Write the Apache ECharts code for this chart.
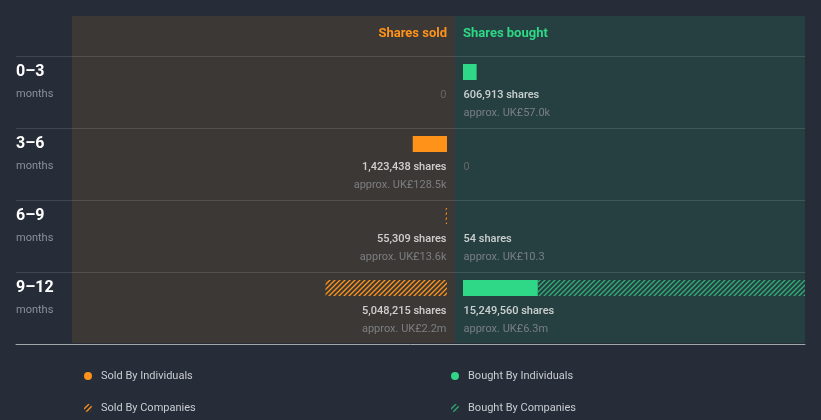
<!DOCTYPE html>
<html>
<head>
<meta charset="utf-8">
<script src="https://cdn.jsdelivr.net/npm/echarts@6/dist/echarts.min.js"></script>
<style>
html,body{margin:0;padding:0;background:#262c38;}
#chart{width:821px;height:420px;}
</style>
</head>
<body>
<div id="chart"></div>
<script>
// ---- data ----
const categories = ['0–3', '3–6', '6–9', '9–12'];
const soldIndividuals = [0, 1423438, 0, 0];
const soldCompanies = [0, 0, 55309, 5048215];
const boughtIndividuals = [606913, 0, 54, 3335000];
const boughtCompanies = [0, 0, 0, 11914560];
const soldShares = [0, 1423438, 55309, 5048215];
const soldApprox = ['', 'UK£128.5k', 'UK£13.6k', 'UK£2.2m'];
const boughtShares = [606913, 0, 54, 15249560];
const boughtApprox = ['UK£57.0k', '', 'UK£10.3', 'UK£6.3m'];
const axisMax = 15249560;
const seriesNames = ['Sold By Individuals', 'Sold By Companies', 'Bought By Individuals', 'Bought By Companies'];

// ---- styles ----
const ORANGE = '#ff931a';
const GREEN = '#2ed886';
const FONT = 'Roboto';

function hatch(color) {
  const s = 5;
  const c = document.createElement('canvas');
  c.width = s; c.height = s;
  const ctx = c.getContext('2d');
  ctx.strokeStyle = color;
  ctx.lineWidth = 1.3;
  ctx.beginPath();
  ctx.moveTo(0, s); ctx.lineTo(s, 0);
  ctx.moveTo(-1, 1); ctx.lineTo(1, -1);
  ctx.moveTo(s - 1, s + 1); ctx.lineTo(s + 1, s - 1);
  ctx.stroke();
  return { image: c, repeat: 'repeat' };
}

function fmt(n) {
  return String(n).replace(/\B(?=(\d{3})+(?!\d))/g, ',');
}
function labelText(shares, approx) {
  if (!shares) return '{z|0}';
  return '{s|' + fmt(shares) + ' shares}\n{a|approx. ' + approx + '}';
}
const rich = {
  s: { color: '#f4f4f4', fontSize: 11, fontFamily: FONT, fontWeight: 500, lineHeight: 18 },
  a: { color: '#8d9095', fontSize: 11, fontFamily: FONT, lineHeight: 18 },
  z: { color: '#74726f', fontSize: 11, fontFamily: FONT, lineHeight: 18 }
};

const hidden = { show: false };
const chart = echarts.init(document.getElementById('chart'), null, { renderer: 'canvas' });

const legendPos = [[84, 369], [84, 401], [451, 369], [451, 401]];
const legends = seriesNames.map((n, i) => ({
  data: [n], orient: 'horizontal', left: legendPos[i][0], top: legendPos[i][1], padding: 0,
  itemWidth: 8, itemHeight: 8, icon: 'circle',
  textStyle: { color: '#c9ccd1', fontSize: 11, fontFamily: FONT, lineHeight: 14, padding: [0, 0, 0, 4] }
}));

const option = {
  backgroundColor: '#262c38',
  animation: false,
  textStyle: { fontFamily: FONT },
  title: [
    { text: 'Shares sold', right: 374, top: 27, padding: 0, textStyle: { color: ORANGE, fontSize: 13, fontWeight: 'bold', fontFamily: FONT } },
    { text: 'Shares bought', left: 463, top: 27, padding: 0, textStyle: { color: GREEN, fontSize: 13, fontWeight: 'bold', fontFamily: FONT } }
  ],
  legend: legends,
  grid: [
    { left: 72, top: 16, width: 383, height: 327, show: true, backgroundColor: '#3c3835', borderWidth: 0 },
    { left: 455, top: 16, width: 350, height: 327, show: true, backgroundColor: '#263f40', borderWidth: 0 },
    { left: 16, top: 56, width: 789, height: 288 },
    { left: 80, top: 36, width: 367, height: 288 },
    { left: 463, top: 36, width: 342, height: 288 }
  ],
  xAxis: [
    { gridIndex: 0, type: 'value', show: false },
    { gridIndex: 1, type: 'value', show: false },
    { gridIndex: 2, type: 'value', position: 'bottom', axisLabel: hidden, axisTick: hidden, splitLine: hidden,
      axisLine: { show: true, lineStyle: { color: '#a3a6ab', width: 1 } } },
    { gridIndex: 3, type: 'value', inverse: true, min: 0, max: axisMax, show: false },
    { gridIndex: 4, type: 'value', min: 0, max: axisMax, show: false }
  ],
  yAxis: [
    { gridIndex: 0, type: 'value', show: false },
    { gridIndex: 1, type: 'value', show: false },
    { gridIndex: 2, type: 'value', min: 0, max: 4, interval: 1, axisLabel: hidden, axisTick: hidden, axisLine: hidden,
      splitLine: { show: true, lineStyle: { color: 'rgba(255,255,255,0.12)', width: 1 } } },
    {
      gridIndex: 3, type: 'category', data: categories, inverse: true,
      axisLine: hidden, axisTick: hidden, splitLine: hidden,
      axisLabel: {
        align: 'left', margin: 64, verticalAlign: 'middle', padding: [22, 0, 0, 0],
        formatter: v => '{t|' + v + '}\n{m|months}',
        rich: {
          t: { color: '#ffffff', fontSize: 16, fontWeight: 'bold', fontFamily: FONT, lineHeight: 22 },
          m: { color: '#8b9098', fontSize: 11, fontFamily: FONT, lineHeight: 22 }
        }
      }
    },
    { gridIndex: 4, type: 'category', data: categories, inverse: true, show: false }
  ],
  series: [
    { name: seriesNames[0], type: 'bar', xAxisIndex: 3, yAxisIndex: 3, stack: 'sold', barWidth: 16,
      data: soldIndividuals, itemStyle: { color: ORANGE } },
    { name: seriesNames[1], type: 'bar', xAxisIndex: 3, yAxisIndex: 3, stack: 'sold', barWidth: 16,
      data: soldCompanies, itemStyle: { color: hatch(ORANGE) } },
    { name: seriesNames[2], type: 'bar', xAxisIndex: 4, yAxisIndex: 4, stack: 'bought', barWidth: 16,
      data: boughtIndividuals, itemStyle: { color: GREEN } },
    { name: seriesNames[3], type: 'bar', xAxisIndex: 4, yAxisIndex: 4, stack: 'bought', barWidth: 16,
      data: boughtCompanies, itemStyle: { color: hatch('#2fae78') } },
    { type: 'scatter', xAxisIndex: 3, yAxisIndex: 3, symbolSize: 1, silent: true,
      itemStyle: { color: 'rgba(0,0,0,0)' },
      data: categories.map((c, i) => [0, i]),
      label: { show: true, position: 'left', distance: 0, verticalAlign: 'top', align: 'right', offset: [0, 14],
        formatter: p => labelText(soldShares[p.dataIndex], soldApprox[p.dataIndex]), rich: rich } },
    { type: 'scatter', xAxisIndex: 4, yAxisIndex: 4, symbolSize: 1, silent: true,
      itemStyle: { color: 'rgba(0,0,0,0)' },
      data: categories.map((c, i) => [0, i]),
      label: { show: true, position: 'right', distance: 0, verticalAlign: 'top', align: 'left', offset: [0, 14],
        formatter: p => labelText(boughtShares[p.dataIndex], boughtApprox[p.dataIndex]), rich: rich } }
  ]
};
chart.setOption(option);
</script>
</body>
</html>
